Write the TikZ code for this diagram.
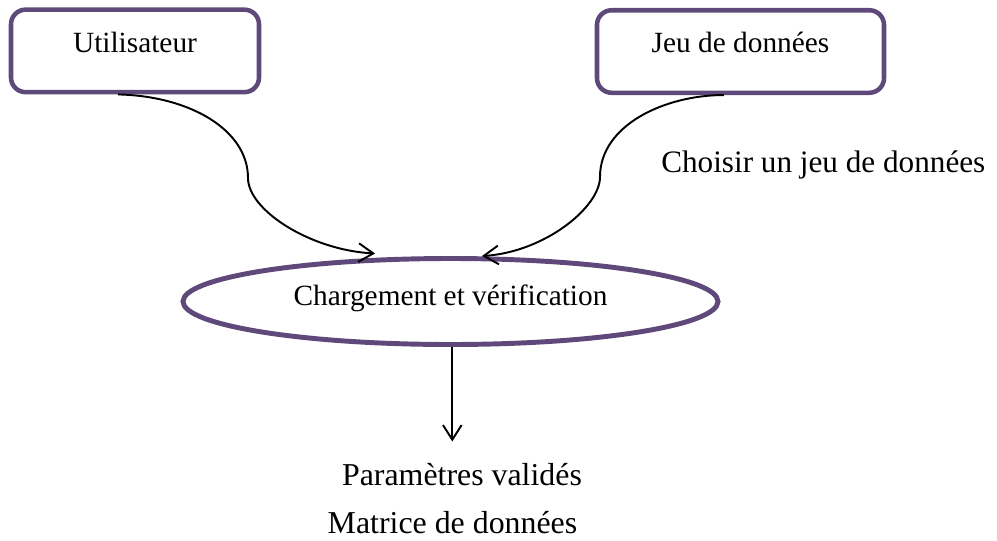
\documentclass[tikz,border=0pt]{standalone}
\usepackage{fontspec}
\setmainfont{Liberation Serif}
\usetikzlibrary{arrows.meta,shapes.geometric}
\definecolor{boxpurple}{HTML}{5F497A}
\begin{document}
\begin{tikzpicture}[x=0.75pt,y=-0.75pt,
  procbox/.style={draw=boxpurple, line width=3.4pt, rounded corners=11pt,
    inner sep=0pt, text height=31.9pt, text depth=30pt,
    font=\fontsize{22pt}{26pt}\selectfont},
  procell/.style={draw=boxpurple, line width=3.7pt, ellipse, inner sep=0pt,
    minimum width=401.25pt, minimum height=64.5pt,
    text height=10pt, text depth=3.4pt,
    font=\fontsize{22pt}{26pt}\selectfont},
  flowlabel/.style={inner sep=0pt},
  flow/.style={line width=1.45pt, -{Straight Barb[length=11pt,width=14pt]}}]
  \useasboundingbox (0,0) rectangle (997,540);

  % sources
  \node[procbox, minimum width=186pt] (user) at (135,50.9) {Utilisateur};
  \node[procbox, minimum width=215.25pt] (data) at (740.5,51.5) {Jeu de données};

  % processing step
  \node[procell] (proc) at (450.5,301.5) {Chargement et vérification};

  % labels
  \node[flowlabel, anchor=base west, font=\fontsize{23.4pt}{28pt}\selectfont]
    (choose) at (661,172) {Choisir un jeu de données};
  \node[flowlabel, anchor=base, font=\fontsize{23.9pt}{28pt}\selectfont]
    (params) at (462,485) {Paramètres validés};
  \node[flowlabel, anchor=base, font=\fontsize{23.9pt}{28pt}\selectfont]
    (matrix) at (452.5,533) {Matrice de données};

  % connectors
  \draw[flow] ([xshift=-12.75pt]user.south)
    .. controls (190,96) and (248,130) .. (248,178)
    .. controls (248,210) and (310,250) .. ([xshift=-56.6pt,yshift=1.9pt]proc.north);
  \draw[flow] ([xshift=-12.4pt]data.south)
    .. controls (665,95) and (600,125) .. (600,177)
    .. controls (600,207) and (545,252) .. ([xshift=23.6pt]proc.north);
  \coordinate (outtip) at (452.3,441.5);
  \draw[flow] (proc.south -| outtip) -- (outtip);
\end{tikzpicture}
\end{document}
